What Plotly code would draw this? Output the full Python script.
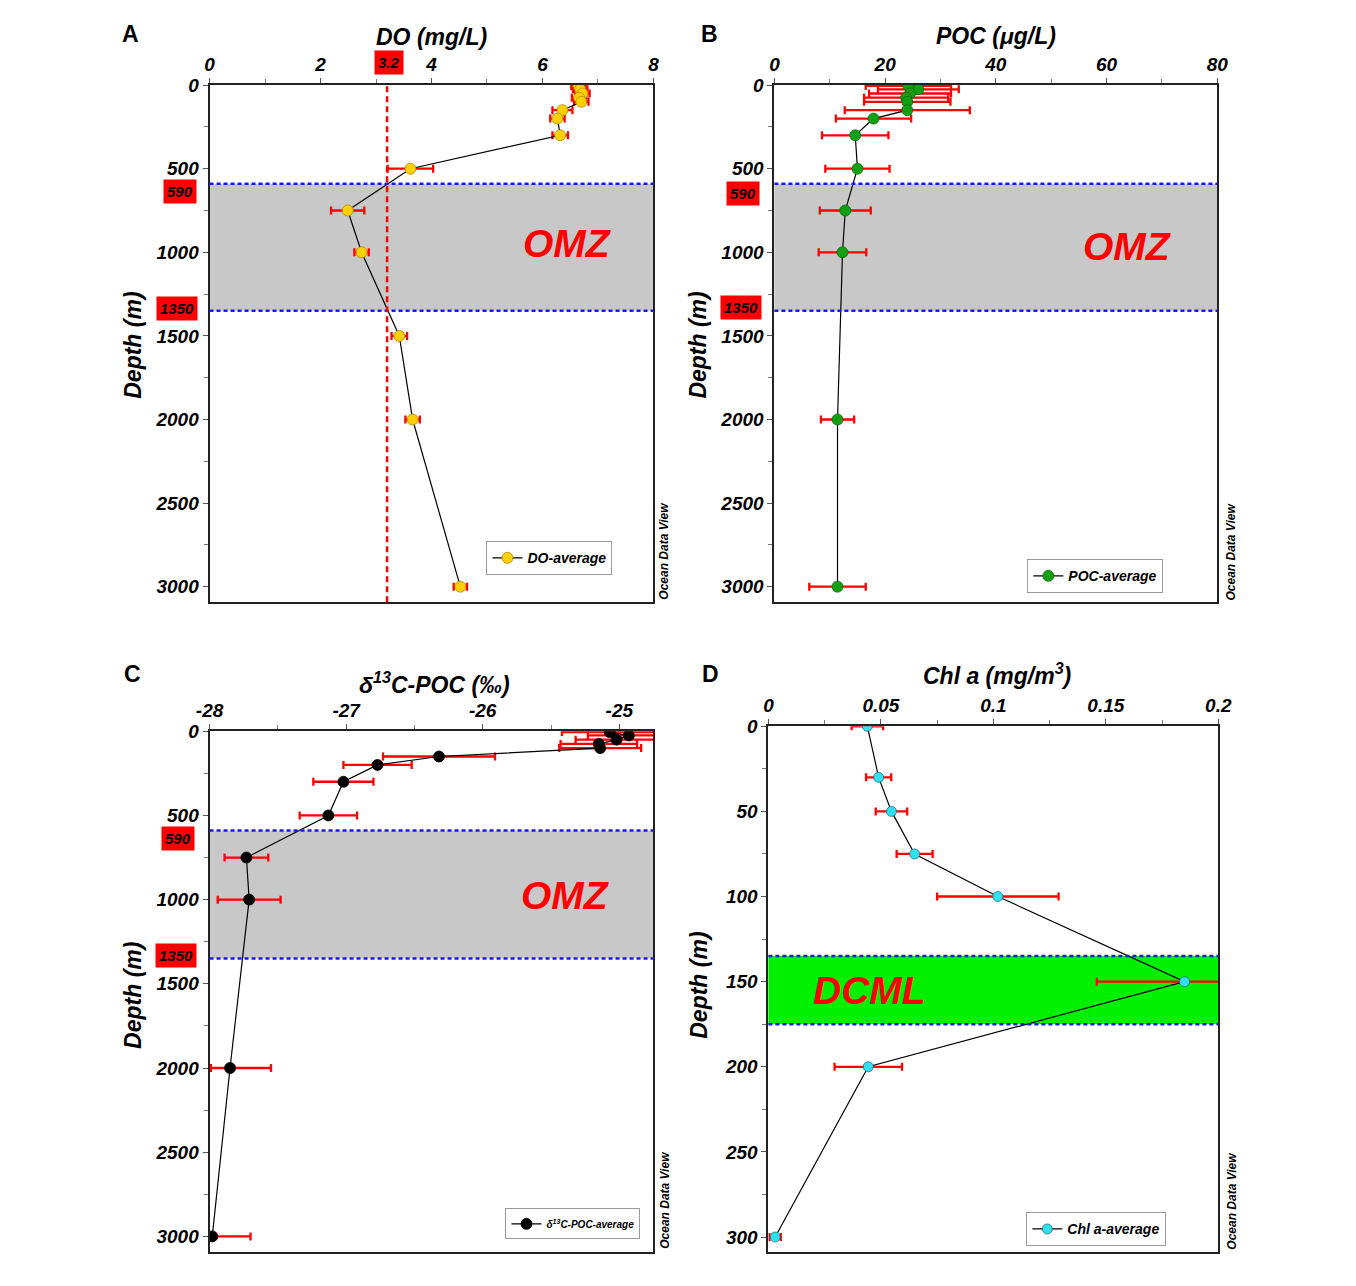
import plotly.graph_objects as go

W, H = 1356, 1286

# ---------------- data ----------------
do_depth = [5, 25, 50, 75, 100, 150, 200, 300, 500, 750, 1000, 1500, 2000, 3000]
do_value = [6.65, 6.68, 6.72, 6.66, 6.70, 6.36, 6.27, 6.32, 3.62, 2.49, 2.74, 3.42, 3.66, 4.52]
do_err = [0.13, 0.13, 0.13, 0.13, 0.13, 0.18, 0.13, 0.14, 0.41, 0.30, 0.13, 0.14, 0.13, 0.12]

poc_depth = [5, 25, 50, 75, 100, 150, 200, 300, 500, 750, 1000, 2000, 3000]
poc_value = [24.2, 26.0, 24.5, 23.8, 24.0, 24.0, 17.9, 14.6, 15.0, 12.8, 12.3, 11.4, 11.4]
poc_err = [7.7, 7.3, 7.4, 7.6, 7.8, 11.3, 6.8, 6.0, 5.8, 4.6, 4.3, 3.0, 5.1]

d13c_depth = [5, 25, 50, 75, 100, 150, 200, 300, 500, 750, 1000, 2000, 3000]
d13c_value = [-25.07, -24.93, -25.02, -25.15, -25.14, -26.32, -26.77, -27.02, -27.13, -27.73, -27.71, -27.85, -27.98]
d13c_err_plus = [0.35, 0.30, 0.30, 0.28, 0.30, 0.41, 0.25, 0.22, 0.21, 0.16, 0.23, 0.30, 0.28]
d13c_err_minus = [0.35, 0.30, 0.30, 0.28, 0.30, 0.41, 0.25, 0.22, 0.21, 0.16, 0.23, 0.14, 0.03]

chl_depth = [0, 30, 50, 75, 100, 150, 200, 300]
chl_value = [0.044, 0.049, 0.0547, 0.065, 0.102, 0.185, 0.0444, 0.003]
chl_err = [0.007, 0.0056, 0.007, 0.008, 0.027, 0.039, 0.015, 0.0025]

d13c_ticks = [-28, -27, -26, -25]
d13c_ticklabels = ["-28", "-27", "-26", "-25"]
chl_ticks = [0, 0.05, 0.1, 0.15, 0.2]
chl_ticklabels = ["0", "0.05", "0.1", "0.15", "0.2"]

omz_top, omz_bottom = 590, 1350
dcml_top, dcml_bottom = 135, 175
do_threshold = 3.2

# ---------------- helpers (layout positions given in reference pixels) ----------------
SX, OX = 0.9796, 14.4
SY, OY = 0.992, 9.9

def px(x):
    return ((x - OX) / SX) / W

def py(y):
    return 1 - ((y - OY) / SY) / H

FONT = "Liberation Sans, Arial, sans-serif"
tickfont = dict(family=FONT, size=19, color="black", weight="bold", style="italic")

fig = go.Figure()

err_style = dict(color="red", thickness=2.3, width=4)

fig.add_trace(go.Scatter(
    x=do_value, y=do_depth, mode="lines+markers", name="DO-average", showlegend=True,
    line=dict(color="black", width=1.2),
    marker=dict(size=11, color="#FFD000", line=dict(color="#b08800", width=0.8)),
    error_x=dict(type="data", array=do_err, **err_style),
    xaxis="x", yaxis="y", legend="legend"))

fig.add_trace(go.Scatter(
    x=poc_value, y=poc_depth, mode="lines+markers", name="POC-average", showlegend=True,
    line=dict(color="black", width=1.2),
    marker=dict(size=11, color="#12a012", line=dict(color="#0a6a0a", width=0.8)),
    error_x=dict(type="data", array=poc_err, **err_style),
    xaxis="x2", yaxis="y2", legend="legend2"))

fig.add_trace(go.Scatter(
    x=d13c_value, y=d13c_depth, mode="lines+markers", name="δ<sup>13</sup>C-POC-average",
    showlegend=True,
    line=dict(color="black", width=1.2),
    marker=dict(size=11, color="black", line=dict(color="black", width=0.8)),
    error_x=dict(type="data", symmetric=False, array=d13c_err_plus,
                 arrayminus=d13c_err_minus, **err_style),
    xaxis="x3", yaxis="y3", legend="legend3"))

fig.add_trace(go.Scatter(
    x=chl_value, y=chl_depth, mode="lines+markers", name="Chl a-average", showlegend=True,
    line=dict(color="black", width=1.2),
    marker=dict(size=10, color="#30e0f0", line=dict(color="#207080", width=0.8)),
    error_x=dict(type="data", array=chl_err, **err_style),
    xaxis="x4", yaxis="y4", legend="legend4"))

def xax(domain, rng, dtick, minor, anchor, tickvals=None, ticktext=None):
    d = dict(domain=domain, range=rng, side="top", anchor=anchor,
             showline=True, linecolor="#222", linewidth=2, mirror=True,
             ticks="outside", ticklen=5, tickwidth=1, tickcolor="#555",
             showgrid=False, zeroline=False, tickfont=tickfont,
             minor=dict(dtick=minor, tick0=0, ticks="outside", ticklen=4,
                        tickcolor="#777", showgrid=False))
    if tickvals is not None:
        d.update(tickmode="array", tickvals=tickvals, ticktext=ticktext)
    else:
        d.update(dtick=dtick, tick0=0)
    return d

def yax(domain, rng, dtick, minor, anchor):
    return dict(domain=domain, range=rng, anchor=anchor, dtick=dtick, tick0=0,
                showline=True, linecolor="#222", linewidth=2, mirror=True,
                ticks="outside", ticklen=5, tickwidth=1, tickcolor="#555",
                showgrid=False, zeroline=False, tickfont=tickfont,
                minor=dict(dtick=minor, tick0=0, ticks="outside", ticklen=4,
                           tickcolor="#777", showgrid=False))

xA = [px(210), px(654)]
xB = [px(775), px(1218)]
xD = [px(769), px(1219)]
yTop = [py(602), py(85)]
yC = [py(1252), py(731)]
yD = [py(1252), py(726)]

fig.update_layout(
    xaxis=xax(xA, [0, 8], 2, 1, "y"),
    yaxis=yax(yTop, [3093, 0], 500, 250, "x"),
    xaxis2=xax(xB, [0, 80], 20, 10, "y2"),
    yaxis2=yax(yTop, [3093, 0], 500, 250, "x2"),
    xaxis3=xax(xA, [-28, -24.75], None, 0.5, "y3",
               tickvals=d13c_ticks, ticktext=d13c_ticklabels),
    yaxis3=yax(yC, [3095, 0], 500, 250, "x3"),
    xaxis4=xax(xD, [0, 0.2], None, 0.025, "y4",
               tickvals=chl_ticks, ticktext=chl_ticklabels),
    yaxis4=yax(yD, [309, 0], 50, 25, "x4"),
)

shapes = []
for xa, ya in [("x", "y"), ("x2", "y2"), ("x3", "y3")]:
    shapes.append(dict(type="rect", xref=f"{xa} domain", yref=ya, x0=0, x1=1,
                       y0=omz_top, y1=omz_bottom, fillcolor="#c8c8c8",
                       line=dict(width=0), layer="below"))
    for yv in (omz_top, omz_bottom):
        shapes.append(dict(type="line", xref=f"{xa} domain", yref=ya, x0=0, x1=1,
                           y0=yv, y1=yv, line=dict(color="#1a1ae6", width=2.5, dash="4px,3px")))
shapes.append(dict(type="rect", xref="x4 domain", yref="y4", x0=0, x1=1,
                   y0=dcml_top, y1=dcml_bottom, fillcolor="#00f000",
                   line=dict(width=0), layer="below"))
for yv in (dcml_top, dcml_bottom):
    shapes.append(dict(type="line", xref="x4 domain", yref="y4", x0=0, x1=1,
                       y0=yv, y1=yv, line=dict(color="#1a1ae6", width=2.5, dash="4px,3px")))
shapes.append(dict(type="line", xref="x", yref="y domain", x0=do_threshold, x1=do_threshold,
                   y0=0, y1=1, line=dict(color="red", width=2.5, dash="6px,4px")))
fig.update_layout(shapes=shapes)

ann = []
def text(x, y, t, size, italic=True, bold=True, color="black", angle=0, **kw):
    ann.append(dict(x=px(x), y=py(y), xref="paper", yref="paper", text=t, showarrow=False,
                    textangle=angle, xanchor="center", yanchor="middle",
                    font=dict(family=FONT, size=size, color=color,
                              weight="bold" if bold else "normal",
                              style="italic" if italic else "normal"), **kw))

# panel letters
text(131, 34, "A", 23, italic=False)
text(710, 34, "B", 23, italic=False)
text(133, 674, "C", 23, italic=False)
text(711, 674, "D", 23, italic=False)

# axis titles
text(432, 37, "DO (mg/L)", 23)
text(997, 36, "POC (μg/L)", 23)
text(435, 683, "δ<sup>13</sup>C-POC (‰)", 23)
text(998, 674, "Chl a (mg/m<sup>3</sup>)", 23)
for (x, y) in [(134, 345), (699, 345), (134, 995), (700, 985)]:
    text(x, y, "Depth (m)", 23, angle=-90)

# Ocean Data View
for (x, y) in [(665, 551), (1232, 552), (666, 1200), (1233, 1201)]:
    text(x, y, "Ocean Data View", 12, angle=-90)

# zone labels
text(568, 243, "OMZ", 39, color="red")
text(1128, 246, "OMZ", 39, color="red")
text(566, 895, "OMZ", 39, color="red")
text(870, 990, "DCML", 39, color="red")

# red boxed markers
def box(x, y, t):
    ann.append(dict(x=px(x), y=py(y), xref="paper", yref="paper", text=t, showarrow=False,
                    xanchor="center", yanchor="middle", bgcolor="red", borderpad=3,
                    font=dict(family=FONT, size=15, color="black", weight="bold", style="italic")))

box(180, 191, str(omz_top))
box(177, 308, str(omz_bottom))
box(744, 193, str(omz_top))
box(742, 307, str(omz_bottom))
box(178, 838, str(omz_top))
box(176, 955, str(omz_bottom))
box(389, 62, str(do_threshold))

fig.update_layout(annotations=ann)

def leg(x, y, size):
    return dict(x=px(x), y=py(y), xanchor="left", yanchor="top", bgcolor="white",
                bordercolor="#999", borderwidth=1, itemwidth=30,
                font=dict(family=FONT, size=size, color="black", weight="bold", style="italic"))

fig.update_layout(
    showlegend=True,
    legend=leg(487, 541, 14),
    legend2=leg(1028, 559, 14),
    legend3=leg(506, 1208, 10),
    legend4=leg(1027, 1212, 14),
    width=W, height=H, margin=dict(l=0, r=0, t=0, b=0),
    plot_bgcolor="white", paper_bgcolor="white",
)

fig.write_html(
    "out.html",
    post_script="document.body.style.margin='0';document.body.style.overflow='hidden';",
)
